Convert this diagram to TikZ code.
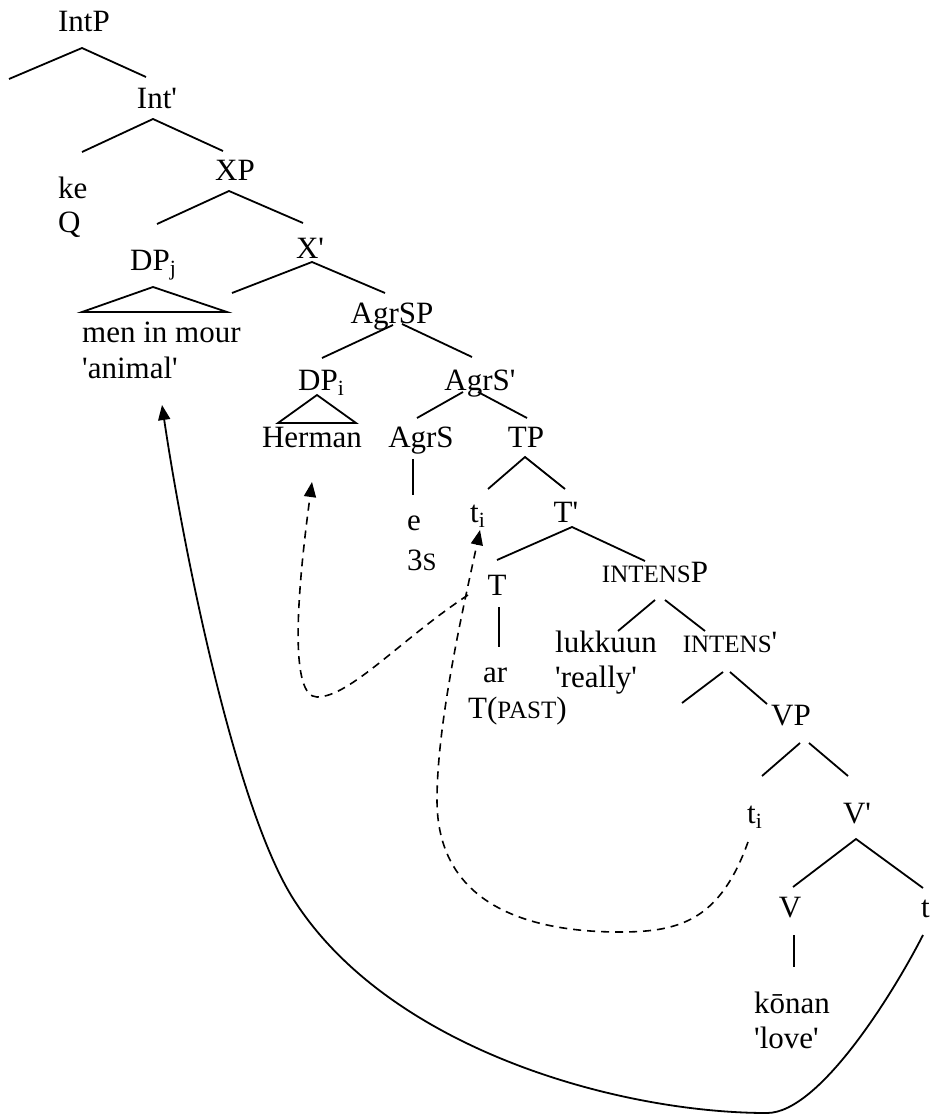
\documentclass[tikz,border=0pt]{standalone}
\usepackage{fontspec}
\setmainfont{Liberation Serif}[Ligatures=TeXOff]
\usetikzlibrary{arrows.meta}
\newcommand\smc[1]{{\fontsize{25}{30}\selectfont #1}}
\begin{document}
\begin{tikzpicture}[x=1pt,y=-1pt,
  lbl/.style={inner sep=0pt, font=\fontsize{31}{36}\selectfont, anchor=base},
  lblw/.style={lbl, anchor=base west},
  branch/.style={line width=1.8pt},
  mvdash/.style={line width=1.6pt, dash pattern=on 8pt off 6pt, -{Triangle[length=15pt,width=12pt]}},
  mvsolid/.style={line width=1.8pt, -{Triangle[length=15pt,width=12pt]}}]
\useasboundingbox (0,0) rectangle (929,1116);

% labels
\node[lbl] (IntP) at (84,32) {IntP};
\node[lbl] (Intb) at (157,108) {Int'};
\node[lblw] (ke) at (58,198) {ke};
\node[lblw] (Q) at (58,232) {Q};
\node[lbl] (XP) at (235,180) {XP};
\node[lbl] (Xb) at (310,258) {X'};
\node[lblw] (DPj) at (130,270) {DP\textsubscript{j}};
\node[lblw] (men) at (82,342) {men in mour};
\node[lblw] (animal) at (82,378) {'animal'};
\node[lbl] (AgrSP) at (392,323) {AgrSP};
\node[lblw] (DPi) at (298,390) {DP\textsubscript{i}};
\node[lbl] (AgrSb) at (480,390) {AgrS'};
\node[lbl] (Herman) at (312,447) {Herman};
\node[lbl] (AgrS) at (421,447) {AgrS};
\node[lbl] (TP) at (526,447) {TP};
\node[lblw] (e) at (407,530) {e};
\node[lblw] (thrs) at (407,570) {3\smc{S}};
\node[lblw] (ti1) at (470,522) {t\textsubscript{i}};
\node[lbl] (Tb) at (566,522) {T'};
\node[lbl] (T) at (497,595) {T};
\node[lbl] (INTENSP) at (655,582) {\smc{INTENS}P};
\node[lblw] (ar) at (483,682) {ar};
\node[lblw] (Tpast) at (468,718) {T(\smc{PAST})};
\node[lblw] (lukkuun) at (555,652) {lukkuun};
\node[lblw] (really) at (555,687) {'really'};
\node[lbl] (INTENSb) at (730,652) {\smc{INTENS}'};
\node[lbl] (VP) at (791,725) {VP};
\node[lblw] (ti2) at (747,823) {t\textsubscript{i}};
\node[lbl] (Vb) at (857,823) {V'};
\node[lbl] (V) at (790,917) {V};
\node[lblw] (tj) at (921,917) {t};
\node[lblw] (konan) at (754,1013) {kōnan};
\node[lblw] (love) at (754,1048) {'love'};

% branch points
\coordinate (IntP-a) at (82,48);  \coordinate (IntP-l) at (9,79);   \coordinate (IntP-r) at (146,77);
\coordinate (Intb-a) at (153,119); \coordinate (Intb-l) at (82,152); \coordinate (Intb-r) at (223,151);
\coordinate (XP-a) at (229,191);  \coordinate (XP-l) at (157,224);  \coordinate (XP-r) at (303,223);
\coordinate (Xb-a) at (312,262);  \coordinate (Xb-l) at (232,293);  \coordinate (Xb-r) at (385,293);
\coordinate (DPj-a) at (153,287); \coordinate (DPj-l) at (82,312);  \coordinate (DPj-r) at (227,312);
\coordinate (AgrSP-al) at (393,325); \coordinate (AgrSP-l) at (322,358);
\coordinate (AgrSP-ar) at (402,324); \coordinate (AgrSP-r) at (472,357);
\coordinate (DPi-a) at (317,395); \coordinate (DPi-l) at (278,423); \coordinate (DPi-r) at (356,423);
\coordinate (AgrSb-al) at (463,392); \coordinate (AgrSb-l) at (417,418);
\coordinate (AgrSb-ar) at (478,392); \coordinate (AgrSb-r) at (527,418);
\coordinate (AgrS-t) at (413,459); \coordinate (AgrS-b) at (413,495);
\coordinate (TP-a) at (525,457); \coordinate (TP-l) at (488,489); \coordinate (TP-r) at (565,489);
\coordinate (Tb-a) at (572,527); \coordinate (Tb-l) at (497,560); \coordinate (Tb-r) at (645,561);
\coordinate (T-t) at (499,607); \coordinate (T-b) at (499,647);
\coordinate (IP-al) at (655,600); \coordinate (IP-l) at (618,631);
\coordinate (IP-ar) at (665,600); \coordinate (IP-r) at (705,631);
\coordinate (Ib-al) at (723,672); \coordinate (Ib-l) at (682,703);
\coordinate (Ib-ar) at (730,672); \coordinate (Ib-r) at (767,704);
\coordinate (VP-al) at (800,743); \coordinate (VP-l) at (762,776);
\coordinate (VP-ar) at (809,743); \coordinate (VP-r) at (848,776);
\coordinate (Vb-a) at (856,839); \coordinate (Vb-l) at (793,887); \coordinate (Vb-r) at (923,888);
\coordinate (V-t) at (794,935); \coordinate (V-b) at (794,967);

\draw[branch] (IntP-l) -- (IntP-a) -- (IntP-r);
\draw[branch] (Intb-l) -- (Intb-a) -- (Intb-r);
\draw[branch] (XP-l) -- (XP-a) -- (XP-r);
\draw[branch] (Xb-l) -- (Xb-a) -- (Xb-r);
\draw[branch, line join=miter] (DPj-l) -- (DPj-a) -- (DPj-r) -- cycle;
\draw[branch] (AgrSP-al) -- (AgrSP-l);
\draw[branch] (AgrSP-ar) -- (AgrSP-r);
\draw[branch, line join=miter] (DPi-l) -- (DPi-a) -- (DPi-r) -- cycle;
\draw[branch] (AgrSb-al) -- (AgrSb-l);
\draw[branch] (AgrSb-ar) -- (AgrSb-r);
\draw[branch] (AgrS-t) -- (AgrS-b);
\draw[branch] (TP-l) -- (TP-a) -- (TP-r);
\draw[branch] (Tb-l) -- (Tb-a) -- (Tb-r);
\draw[branch] (T-t) -- (T-b);
\draw[branch] (IP-al) -- (IP-l);
\draw[branch] (IP-ar) -- (IP-r);
\draw[branch] (Ib-al) -- (Ib-l);
\draw[branch] (Ib-ar) -- (Ib-r);
\draw[branch] (VP-al) -- (VP-l);
\draw[branch] (VP-ar) -- (VP-r);
\draw[branch] (Vb-l) -- (Vb-a) -- (Vb-r);
\draw[branch] (V-t) -- (V-b);

% movement arrows
\coordinate (T-src) at (468,595);
\coordinate (Herman-tgt) at (312,482);
\coordinate (A-bot) at (317,697);
\draw[mvdash] (T-src) .. controls (400,640) and (350,697) .. (A-bot)
  .. controls (290,697) and (296,600) .. (Herman-tgt);

\coordinate (ti2-src) at (748,842);
\coordinate (ti1-tgt) at (480,530);
\coordinate (B-bot) at (620,932);
\coordinate (B-left) at (437,800);
\draw[mvdash] (ti2-src) .. controls (720,920) and (680,932) .. (B-bot)
  .. controls (520,932) and (437,900) .. (B-left)
  .. controls (437,720) and (465,600) .. (ti1-tgt);

\coordinate (tj-src) at (923,935);
\coordinate (animal-tgt) at (162,405);
\coordinate (C-bot) at (767,1113);
\coordinate (C-mid) at (294,900);
\draw[mvsolid] (tj-src) .. controls (895,990) and (820,1113) .. (C-bot)
  .. controls (620,1113) and (390,1050) .. (C-mid)
  .. controls (236,810) and (184,553) .. (animal-tgt);
\end{tikzpicture}
\end{document}
